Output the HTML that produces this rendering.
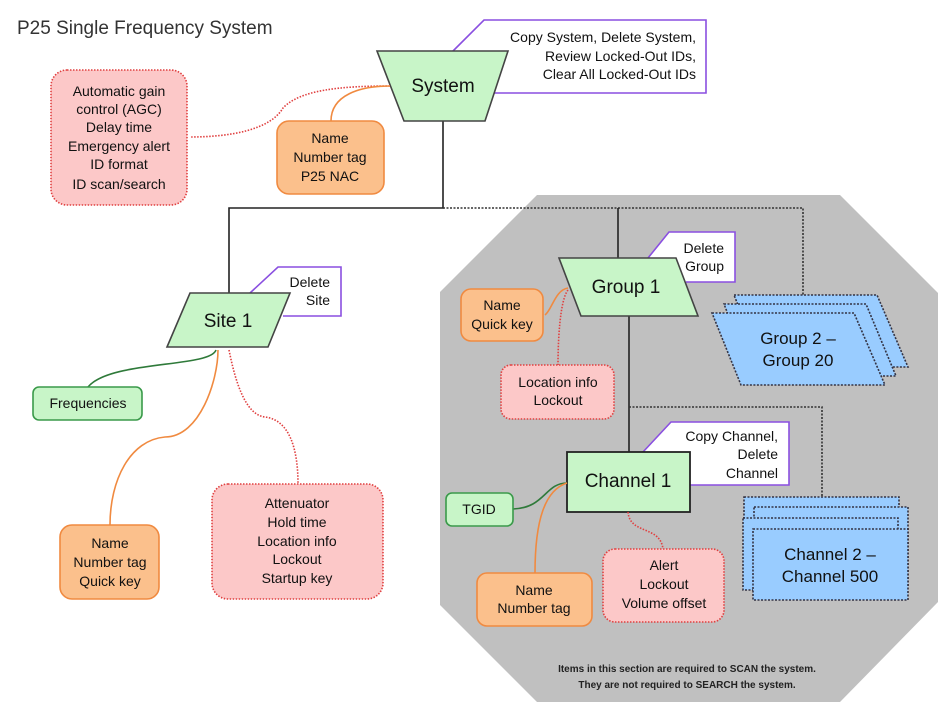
<!DOCTYPE html>
<html><head><meta charset="utf-8"><style>
html,body{margin:0;padding:0;background:#fff;}
svg{display:block;}
text{font-family:"Liberation Sans",Arial,sans-serif;fill:#111;}
</style></head><body>
<svg width="938" height="704" viewBox="0 0 938 704" xmlns="http://www.w3.org/2000/svg">
<text x="17" y="34" font-size="19" style="fill:#333">P25 Single Frequency System</text>

<!-- gray octagon -->
<polygon points="537,195 840,195 938,293 938,602 840,702 537,702 440,605 440,292" fill="#c0c0c0"/>

<!-- main connectors -->
<polyline points="443,121 443,208 229,208 229,293" fill="none" stroke="#222" stroke-width="1.6"/>
<polyline points="443,208 803,208 803,295" fill="none" stroke="#333" stroke-width="1.6" stroke-dasharray="2,1.5"/>
<line x1="618" y1="208" x2="618" y2="258" stroke="#222" stroke-width="1.6"/>
<line x1="629" y1="316" x2="629" y2="452" stroke="#222" stroke-width="1.6"/>
<polyline points="629,407 822,407 822,497" fill="none" stroke="#333" stroke-width="1.6" stroke-dasharray="2,1.5"/>

<!-- System -->
<polyline points="452,52 484,20 706,20 706,93 492,93" fill="#fff" stroke="#8a4fe0" stroke-width="1.6"/>
<text font-size="14" text-anchor="end"><tspan x="696" y="42">Copy System, Delete System,</tspan><tspan x="696" y="61">Review Locked-Out IDs,</tspan><tspan x="696" y="79">Clear All Locked-Out IDs</tspan></text>
<polygon points="377,51 508,51 485,121 404,121" fill="#c8f5c8" stroke="#444" stroke-width="1.6"/>
<text x="443" y="92" font-size="19" text-anchor="middle">System</text>

<path d="M390,86 C340,86 300,90 283,108 C270,130 230,137 190,137" fill="none" stroke="#e04040" stroke-width="1.6" stroke-dasharray="1.5,1.5"/>
<path d="M390,86 C360,86 331,95 331,121" fill="none" stroke="#f08a40" stroke-width="1.6"/>
<rect x="51" y="70" width="136" height="135" rx="16" fill="#fcc8c8" stroke="#e04040" stroke-width="1.6" stroke-dasharray="1.5,1.5"/>
<text font-size="14" text-anchor="middle"><tspan x="119" y="96">Automatic gain</tspan><tspan x="119" y="114">control (AGC)</tspan><tspan x="119" y="132">Delay time</tspan><tspan x="119" y="151">Emergency alert</tspan><tspan x="119" y="169">ID format</tspan><tspan x="119" y="189">ID scan/search</tspan></text>
<rect x="277" y="121" width="107" height="73" rx="12" fill="#fbc08c" stroke="#f08a40" stroke-width="1.6"/>
<text font-size="14" text-anchor="middle"><tspan x="330" y="143">Name</tspan><tspan x="330" y="162">Number tag</tspan><tspan x="330" y="181">P25 NAC</tspan></text>

<!-- Site -->
<polyline points="250,293 278,267 341,267 341,316 283,316" fill="#fff" stroke="#8a4fe0" stroke-width="1.6"/>
<text font-size="14" text-anchor="end"><tspan x="330" y="287">Delete</tspan><tspan x="330" y="305">Site</tspan></text>
<polygon points="190,293 290,293 268,347 167,347" fill="#c8f5c8" stroke="#444" stroke-width="1.6"/>
<text x="228" y="327" font-size="19" text-anchor="middle">Site 1</text>
<path d="M216,350 C210,368 110,360 88,387" fill="none" stroke="#2f7a3a" stroke-width="1.6"/>
<path d="M218,350 C218,380 200,437 165,437 C130,440 110,480 110,525" fill="none" stroke="#f08a40" stroke-width="1.6"/>
<path d="M229,350 C235,380 245,415 265,417 C290,420 298,450 298,484" fill="none" stroke="#e04040" stroke-width="1.6" stroke-dasharray="1.5,1.5"/>
<rect x="33" y="387" width="109" height="33" rx="6" fill="#c8f5c8" stroke="#3a9a4a" stroke-width="1.6"/>
<text x="88" y="408" font-size="14" text-anchor="middle">Frequencies</text>
<rect x="60" y="525" width="99" height="74" rx="12" fill="#fbc08c" stroke="#f08a40" stroke-width="1.6"/>
<text font-size="14" text-anchor="middle"><tspan x="110" y="548">Name</tspan><tspan x="110" y="567">Number tag</tspan><tspan x="110" y="586">Quick key</tspan></text>
<rect x="212" y="484" width="171" height="115" rx="16" fill="#fcc8c8" stroke="#e04040" stroke-width="1.6" stroke-dasharray="1.5,1.5"/>
<text font-size="14" text-anchor="middle"><tspan x="297" y="508">Attenuator</tspan><tspan x="297" y="527">Hold time</tspan><tspan x="297" y="546">Location info</tspan><tspan x="297" y="564">Lockout</tspan><tspan x="297" y="583">Startup key</tspan></text>

<!-- Group 1 -->
<polyline points="648,258 669,232 735,232 735,282 686,282" fill="#fff" stroke="#8a4fe0" stroke-width="1.6"/>
<text font-size="14" text-anchor="end"><tspan x="724" y="253">Delete</tspan><tspan x="724" y="271">Group</tspan></text>
<polygon points="559,258 676,258 698,316 581,316" fill="#c8f5c8" stroke="#444" stroke-width="1.6"/>
<text x="626" y="293" font-size="19" text-anchor="middle">Group 1</text>
<path d="M568,288 C555,290 552,310 545,315" fill="none" stroke="#f08a40" stroke-width="1.6"/>
<path d="M568,290 C560,300 558,340 558,365" fill="none" stroke="#e04040" stroke-width="1.6" stroke-dasharray="1.5,1.5"/>
<rect x="461" y="289" width="82" height="52" rx="10" fill="#fbc08c" stroke="#f08a40" stroke-width="1.6"/>
<text font-size="14" text-anchor="middle"><tspan x="502" y="310">Name</tspan><tspan x="502" y="329">Quick key</tspan></text>
<rect x="501" y="365" width="113" height="54" rx="10" fill="#fcc8c8" stroke="#e04040" stroke-width="1.6" stroke-dasharray="1.5,1.5"/>
<text font-size="14" text-anchor="middle"><tspan x="558" y="387">Location info</tspan><tspan x="558" y="405">Lockout</tspan></text>

<!-- Group stack -->
<g fill="#99ccff" stroke="#334" stroke-width="1.6" stroke-dasharray="2,1.5">
<polygon points="734,295 877,295 908,367 763,367"/>
<polygon points="724,304 866,304 896,376 752,376"/>
<polygon points="712,313 854,313 885,385 741,385"/>
</g>
<text font-size="17" text-anchor="middle"><tspan x="798" y="344">Group 2 –</tspan><tspan x="798" y="366">Group 20</tspan></text>

<!-- Channel 1 -->
<polyline points="643,452 671,422 789,422 789,485 690,485" fill="#fff" stroke="#8a4fe0" stroke-width="1.6"/>
<text font-size="14" text-anchor="end"><tspan x="778" y="441">Copy Channel,</tspan><tspan x="778" y="459">Delete</tspan><tspan x="778" y="478">Channel</tspan></text>
<rect x="567" y="452" width="123" height="60" fill="#c8f5c8" stroke="#222" stroke-width="1.8"/>
<text x="628" y="487" font-size="19" text-anchor="middle">Channel 1</text>
<path d="M567,483 C545,483 545,508 513,509" fill="none" stroke="#2f7a3a" stroke-width="1.6"/>
<path d="M567,483 C545,490 535,520 535,573" fill="none" stroke="#f08a40" stroke-width="1.6"/>
<path d="M628,512 C630,535 660,525 663,549" fill="none" stroke="#e04040" stroke-width="1.6" stroke-dasharray="1.5,1.5"/>
<rect x="446" y="493" width="67" height="33" rx="6" fill="#c8f5c8" stroke="#3a9a4a" stroke-width="1.6"/>
<text x="479" y="514" font-size="14" text-anchor="middle">TGID</text>
<rect x="477" y="573" width="115" height="53" rx="10" fill="#fbc08c" stroke="#f08a40" stroke-width="1.6"/>
<text font-size="14" text-anchor="middle"><tspan x="534" y="595">Name</tspan><tspan x="534" y="613">Number tag</tspan></text>
<rect x="603" y="549" width="121" height="73" rx="12" fill="#fcc8c8" stroke="#e04040" stroke-width="1.6" stroke-dasharray="1.5,1.5"/>
<text font-size="14" text-anchor="middle"><tspan x="664" y="570">Alert</tspan><tspan x="664" y="589">Lockout</tspan><tspan x="664" y="608">Volume offset</tspan></text>

<!-- Channel stack -->
<g fill="#99ccff" stroke="#334" stroke-width="1.6" stroke-dasharray="2,1.5">
<rect x="744" y="497" width="155" height="80"/>
<rect x="754" y="507" width="154" height="80"/>
<rect x="743" y="518" width="155" height="72"/>
<rect x="753" y="529" width="155" height="71"/>
</g>
<text font-size="17" text-anchor="middle"><tspan x="830" y="560">Channel 2 –</tspan><tspan x="830" y="582">Channel 500</tspan></text>

<text font-size="10" text-anchor="middle" style="font-weight:bold;fill:#222"><tspan x="687" y="672">Items in this section are required to SCAN the system.</tspan><tspan x="687" y="688">They are not required to SEARCH the system.</tspan></text>
</svg>
</body></html>
